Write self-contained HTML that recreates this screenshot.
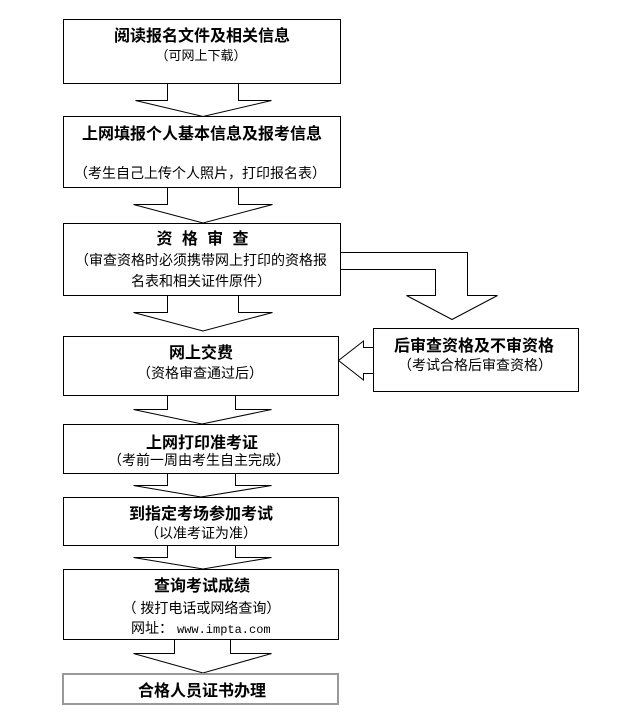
<!DOCTYPE html>
<html>
<head>
<meta charset="utf-8">
<style>
html,body{margin:0;padding:0;background:#fff;}
svg{display:block;}
text{font-family:"Liberation Sans","Noto Sans CJK SC","WenQuanYi Zen Hei",sans-serif;fill:#000;}
.t{font-size:16px;font-weight:700;}
.s{font-size:14px;}
.m{font-family:"Liberation Mono",monospace;font-size:12px;}
</style>
</head>
<body>
<svg width="641" height="712" viewBox="0 0 641 712" xmlns="http://www.w3.org/2000/svg">
<rect x="0" y="0" width="641" height="712" fill="#fff"/>
<g fill="none" stroke="#000" stroke-width="1">
  <!-- boxes -->
  <rect x="63.5" y="19.5" width="277" height="64"/>
  <rect x="63.5" y="116.5" width="277" height="71"/>
  <rect x="63.5" y="223.5" width="277" height="72"/>
  <rect x="63.5" y="336.5" width="275" height="59"/>
  <rect x="373.5" y="328.5" width="205" height="63"/>
  <rect x="63.5" y="424.5" width="275" height="49"/>
  <rect x="63.5" y="497.5" width="275" height="48"/>
  <rect x="63.5" y="569.5" width="275" height="70"/>
  <!-- down arrows -->
  <polyline points="167.5,83.5 167.5,100.5 135.5,100.5 203,116.5 271.5,100.5 238.5,100.5 238.5,83.5"/>
  <polyline points="167.5,187.5 167.5,204.5 133.5,204.5 203,223 272.5,204.5 238.5,204.5 238.5,187.5"/>
  <polyline points="167.5,295.5 167.5,312.5 133.5,312.5 203,331 272.5,312.5 238.5,312.5 238.5,295.5"/>
  <polyline points="167.5,395.5 167.5,409.5 133.5,409.5 202,424 271.5,409.5 235.5,409.5 235.5,395.5"/>
  <polyline points="167.5,473.5 167.5,485.5 133.5,485.5 201,497 271.5,485.5 235.5,485.5 235.5,473.5"/>
  <polyline points="167.5,545.5 167.5,557.5 133.5,557.5 203,569 271.5,557.5 235.5,557.5 235.5,545.5"/>
  <polyline points="174.5,639.5 174.5,653.5 133.5,653.5 203,673 271.5,653.5 230.5,653.5 230.5,639.5"/>
  <!-- side arrow from box 3 -->
  <polyline points="340.5,252.5 467.5,252.5 467.5,295.5 497.5,295.5 452,319.5 406.5,295.5 435.5,295.5 435.5,269.5 340.5,269.5"/>
  <!-- left arrow into box 4 -->
  <polyline points="373.5,347.5 363.5,347.5 363.5,341 338.5,360.5 363.5,380 363.5,373.5 373.5,373.5"/>
</g>
<rect x="63" y="674" width="275" height="30" fill="none" stroke="#999" stroke-width="2"/>

<!-- texts -->
<text class="t" x="202" y="41" text-anchor="middle">阅读报名文件及相关信息</text>
<text class="s" x="201" y="60" text-anchor="middle" style="font-size:13px">（可网上下载）</text>

<text class="t" x="202" y="139" text-anchor="middle" textLength="240" lengthAdjust="spacing">上网填报个人基本信息及报考信息</text>
<text class="s" x="200" y="178" text-anchor="middle">（考生自己上传个人照片，打印报名表）</text>

<text class="t" x="202.5" y="244" text-anchor="middle" textLength="92" lengthAdjust="spacing">资格审查</text>
<text class="s" x="201" y="265" text-anchor="middle">（审查资格时必须携带网上打印的资格报</text>
<text class="s" x="201" y="286" text-anchor="middle">名表和相关证件原件）</text>

<text class="t" x="201" y="358" text-anchor="middle">网上交费</text>
<text class="s" x="200" y="378" text-anchor="middle">（资格审查通过后）</text>

<text class="t" x="474" y="351" text-anchor="middle">后审查资格及不审资格</text>
<text class="s" x="475" y="370" text-anchor="middle">（考试合格后审查资格）</text>

<text class="t" x="202" y="448" text-anchor="middle">上网打印准考证</text>
<text class="s" x="199" y="465" text-anchor="middle">（考前一周由考生自主完成）</text>

<text class="t" x="201" y="519" text-anchor="middle">到指定考场参加考试</text>
<text class="s" x="201" y="538" text-anchor="middle">（以准考证为准）</text>

<text class="t" x="202" y="591" text-anchor="middle">查询考试成绩</text>
<text class="s" x="201.5" y="613" text-anchor="middle">（ 拨打电话或网络查询）</text>
<text class="s" x="131" y="633">网址：</text>
<text class="m" x="177" y="633">www.impta.com</text>

<text class="t" x="202" y="696" text-anchor="middle">合格人员证书办理</text>
</svg>
</body>
</html>
